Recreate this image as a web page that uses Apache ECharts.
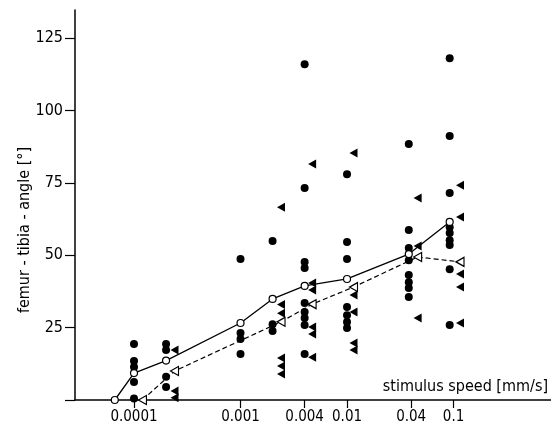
<!DOCTYPE html>
<html>
<head>
<meta charset="utf-8">
<script src="https://cdn.jsdelivr.net/npm/echarts@6/dist/echarts.min.js"></script>
<style>
  html, body { margin: 0; padding: 0; background: #fff; }
  #chart { width: 551px; height: 426px; }
</style>
</head>
<body>
<div id="chart"></div>
<script>
// speeds in mm/s, angles in degrees
const tickSpeeds = [0.0001, 0.001, 0.004, 0.01, 0.04, 0.1];
const tickLabels = ['0.0001', '0.001', '0.004', '0.01', '0.04', '0.1'];
const yTicks = [0, 25, 50, 75, 100, 125];

// filled circles, one list per speed column
const dotSpeeds = [0.0001, 0.0002, 0.001, 0.002, 0.004, 0.01, 0.038, 0.092];
const dotAngles = [
    [19.3, 13.5, 11.4, 6.2, 0.5],
    [19.3, 17.3, 8, 4.5],
    [48.7, 23.1, 21.1, 15.9],
    [54.9, 26.2, 23.8],
    [116, 73.2, 47.7, 45.6, 33.5, 30.4, 28.3, 25.9, 15.9],
    [78, 54.6, 48.7, 32.1, 29.3, 26.9, 24.9],
    [88.4, 58.7, 52.5, 48.3, 43.2, 40.7, 38.7, 35.6],
    [118, 91.2, 71.5, 59.7, 57.7, 55.2, 53.5, 45.2, 25.9]
];

// filled triangles
const triSpeeds = [0.00024, 0.0024, 0.0047, 0.0115, 0.046, 0.115];
const triAngles = [
    [17.3, 3.1, 0.8],
    [66.6, 33, 30, 14.5, 11.7, 9],
    [81.5, 40.4, 38, 25.2, 22.8, 14.8],
    [85.3, 36.3, 30.4, 19.7, 17.3],
    [69.8, 53.2, 28.3],
    [74.2, 63.2, 43.5, 39, 26.6]
];

// means
const dotMeanSpeeds = [0.000066, 0.0001, 0.0002, 0.001, 0.002, 0.004, 0.01, 0.038, 0.092];
const dotMeans = [0, 9.3, 13.6, 26.6, 34.9, 39.4, 41.8, 50.4, 61.5];
const triMeanSpeeds = [0.00012, 0.00024, 0.0024, 0.0047, 0.0115, 0.046, 0.115];
const triMeans = [0, 10, 27, 33.1, 39, 49.4, 47.7];

const FONT = '"Liberation Sans Narrow", "DejaVu Sans Condensed", "Liberation Sans", sans-serif';
const TRI = 'path://M0,5L9,0L9,10Z';

const lg = v => Math.log10(v);
const columns = (speeds, vals) => speeds.flatMap((s, i) => vals[i].map(v => [lg(s), v]));
const zip = (xs, ys) => xs.map((x, i) => [lg(x), ys[i]]);
const tickPos = tickSpeeds.map(lg);

const chart = echarts.init(document.getElementById('chart'));

chart.setOption({
    animation: false,
    textStyle: { fontFamily: FONT, color: '#000' },
    grid: { left: 75, right: 0, top: 10, bottom: 26 },
    xAxis: {
        type: 'value',
        min: -4.554,
        max: -0.085,
        axisLine: { onZero: false, lineStyle: { color: '#000', width: 1.5 } },
        splitLine: { show: false },
        axisTick: { customValues: tickPos, length: 8, lineStyle: { color: '#000', width: 1.2 } },
        axisLabel: {
            customValues: tickPos,
            margin: 10,
            color: '#000',
            fontSize: 15,
            fontFamily: FONT,
            formatter: v => {
                const i = tickPos.findIndex(p => Math.abs(p - v) < 1e-6);
                return i < 0 ? '' : tickLabels[i];
            }
        },
        name: 'stimulus speed [mm/s]',
        nameLocation: 'end',
        nameGap: -3,
        nameTextStyle: {
            align: 'right', verticalAlign: 'bottom', padding: [0, 0, 5, 0],
            fontSize: 16, color: '#000', fontFamily: FONT
        }
    },
    yAxis: {
        type: 'value',
        min: 0,
        max: 134.7,
        axisLine: { onZero: false, lineStyle: { color: '#000', width: 1.5 } },
        splitLine: { show: false },
        axisTick: { customValues: yTicks, length: 10, lineStyle: { color: '#000', width: 1.2 } },
        axisLabel: {
            customValues: yTicks.slice(1),
            margin: 12,
            color: '#000',
            fontSize: 16,
            fontFamily: FONT
        },
        name: 'femur - tibia - angle [°]',
        nameLocation: 'middle',
        nameGap: 42,
        nameMoveOverlap: false,
        nameTextStyle: { fontSize: 16, color: '#000', fontFamily: FONT, padding: [0, 50, 0, 0] }
    },
    series: [
        {
            type: 'scatter',
            data: columns(dotSpeeds, dotAngles),
            symbol: 'circle',
            symbolSize: 8,
            itemStyle: { color: '#000', opacity: 1 },
            z: 2
        },
        {
            type: 'scatter',
            data: columns(triSpeeds, triAngles),
            symbol: TRI,
            symbolSize: [8, 9],
            itemStyle: { color: '#000', opacity: 1 },
            z: 2
        },
        {
            type: 'line',
            data: zip(triMeanSpeeds, triMeans),
            symbol: TRI,
            symbolSize: [8, 9],
            showAllSymbol: true,
            lineStyle: { color: '#000', width: 1.2, type: [5, 3] },
            itemStyle: { color: '#fff', borderColor: '#000', borderWidth: 1.2 },
            z: 3
        },
        {
            type: 'line',
            data: zip(dotMeanSpeeds, dotMeans),
            symbol: 'circle',
            symbolSize: 7,
            showAllSymbol: true,
            lineStyle: { color: '#000', width: 1.3 },
            itemStyle: { color: '#fff', borderColor: '#000', borderWidth: 1.2 },
            z: 4
        }
    ]
});
</script>
</body>
</html>
